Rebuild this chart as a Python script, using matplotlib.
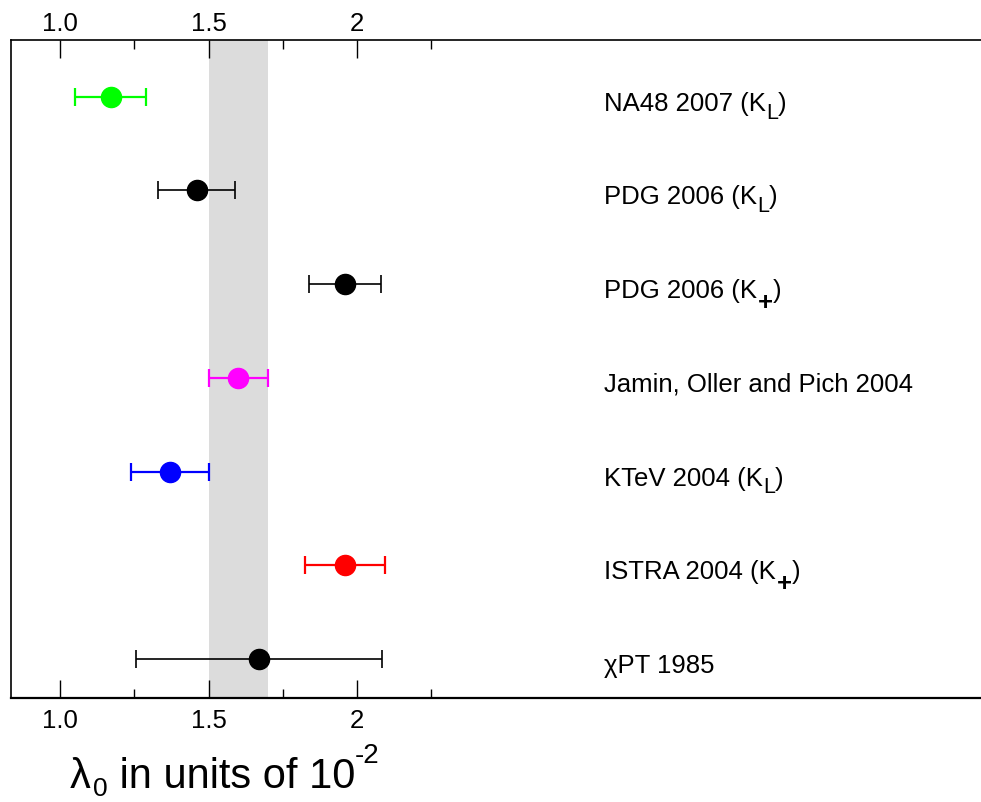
import matplotlib
matplotlib.use("Agg")
import matplotlib.pyplot as plt
from matplotlib.ticker import FixedLocator, FixedFormatter

plt.rcParams['font.family'] = ['Liberation Sans', 'DejaVu Sans']

# measurements, top to bottom: (text, subscript)
names = ['NA48 2007 (K', 'PDG 2006 (K', 'PDG 2006 (K',
         'Jamin, Oller and Pich 2004', 'KTeV 2004 (K',
         'ISTRA 2004 (K', '\u03c7PT 1985']
subs = ['L', 'L', '+', '', 'L', '+', '']
values = [1.17, 1.46, 1.96, 1.60, 1.37, 1.96, 1.67]
errors = [0.12, 0.13, 0.12, 0.10, 0.13, 0.135, 0.415]
colors = ['#00ff00', 'black', 'black', '#ff00ff', '#0000ff', '#ff0000', 'black']
ypos = [7, 6, 5, 4, 3, 2, 1]

band = (1.5, 1.7)
major_ticks = [1.0, 1.5, 2.0]
major_labels = ['1.0', '1.5', '2']
minor_ticks = [1.25, 1.75, 2.25]

fig = plt.figure(figsize=(9.81, 8.02), dpi=100)
ax = fig.add_axes([11 / 981, 104 / 802, 980 / 981, 658 / 802])

ax.axvspan(band[0], band[1], color='#dcdcdc', lw=0, zorder=0)

fs = 18.5
for x, e, c, y, name, sub in zip(values, errors, colors, ypos, names, subs):
    lw = 1.2 if c == 'black' else 1.6
    ax.errorbar(x, y, xerr=e, fmt='o', color=c, ms=14.5, lw=lw,
                capsize=6.8, capthick=lw, zorder=3)
    t = ax.text(2.833, y - 0.15, name, fontsize=fs, va='baseline', ha='left')
    if sub:
        if sub == '+':
            s = ax.annotate('+', xy=(1, 0), xycoords=t, xytext=(0.5, 0),
                            textcoords='offset points', fontsize=fs,
                            fontweight='bold', va='center', ha='left')
        else:
            s = ax.annotate(sub, xy=(1, 0), xycoords=t, xytext=(0, -2),
                            textcoords='offset points', fontsize=15.5,
                            va='baseline', ha='left')
        ax.annotate(')', xy=(1, 0), xycoords=(s, t), xytext=(0, 0),
                    textcoords='offset points', fontsize=fs,
                    va='bottom', ha='left')

ax.set_xlim(0.834, 0.834 + 980 / 296.7)
ax.set_ylim(0.584, 7.605)
ax.set_yticks([])
ax.spines['right'].set_visible(False)

ax.xaxis.set_major_locator(FixedLocator(major_ticks))
ax.xaxis.set_major_formatter(FixedFormatter(major_labels))
ax.xaxis.set_minor_locator(FixedLocator(minor_ticks))
ax.tick_params(axis='x', which='both', direction='in', top=True, bottom=True,
               labeltop=False, labelbottom=True, labelsize=fs, width=1.0)
ax.tick_params(axis='x', which='major', length=13, pad=8)
ax.tick_params(axis='x', which='minor', length=6.5)
ax.spines['bottom'].set_linewidth(1.6)
ax.spines['top'].set_linewidth(1.2)
ax.spines['left'].set_linewidth(1.2)

# top labels sit closer to the frame
sec = ax.secondary_xaxis('top')
sec.set_xticks(major_ticks, labels=major_labels)
sec.tick_params(length=0, pad=3, labelsize=fs)
sec.spines['top'].set_visible(False)

# axis title: lambda_0 in units of 10^-2
lam = fig.text(70 / 981, 1 - 788 / 802, '\u03bb', fontsize=30,
               ha='left', va='baseline')
zero = fig.add_artist(plt.Annotation('0', xy=(1, 0), xycoords=lam,
                                     xytext=(1.5, 0.5),
                                     textcoords='offset points',
                                     fontsize=19, va='baseline', ha='left'))
body = fig.add_artist(plt.Annotation(' in units of 10', xy=(1, 0),
                                     xycoords=(zero, lam), xytext=(0, 0),
                                     textcoords='offset points',
                                     fontsize=30, va='bottom', ha='left'))
fig.add_artist(plt.Annotation('-2', xy=(1, 0), xycoords=body,
                              xytext=(0, 24.5), textcoords='offset points',
                              fontsize=20, va='baseline', ha='left'))

fig.savefig('out.png', dpi=100)
